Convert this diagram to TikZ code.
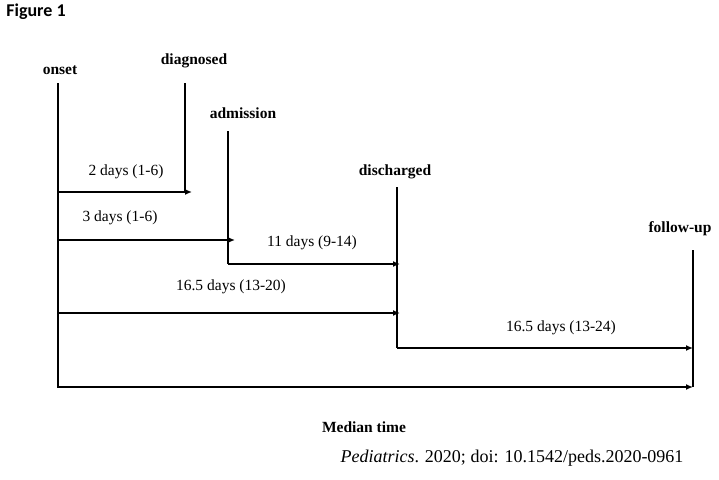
\documentclass[tikz,border=0pt]{standalone}
\usepackage{fontspec}
\setmainfont{Liberation Serif}
\newfontfamily\figfont{Carlito}
\usepackage{tikz}
\usetikzlibrary{arrows.meta,calc,positioning}

\tikzset{
  stage/.style={font=\fontsize{15.5}{18}\selectfont\bfseries, inner sep=0pt},
  span/.style={font=\fontsize{15.5}{18}\selectfont, inner sep=0pt},
  tl/.style={line width=1.5pt},
  tlarr/.style={line width=1.5pt, -{Latex[length=7pt,width=6pt]}}
}

\begin{document}
\begin{tikzpicture}[x=1pt, y=-1pt]
\useasboundingbox (0,0) rectangle (719,479);
% --- titolo ---
\node[font=\figfont\fontsize{18}{20}\selectfont\bfseries, inner sep=0pt] (fig) at (36,12) {Figure 1};
% --- eventi ---
\node[stage] (onset) at (60,70) {onset};
\node[stage] (diag) at (194,61) {diagnosed};
\node[stage] (adm) at (243,113) {admission};
\node[stage] (dis) at (395,172) {discharged};
\node[stage] (fu) at (680,229) {follow-up};
% --- estremi delle linee ---
\coordinate (on-t) at (58,83);
\coordinate (dg-t) at (185,83);
\coordinate (dg-b) at (185,192);
\coordinate (ad-t) at (228,131);
\coordinate (ad-b) at (228,264);
\coordinate (ds-t) at (397,187);
\coordinate (ds-b) at (397,348);
\coordinate (fu-t) at (693,250);
\coordinate (fu-b) at (693,387);
% --- linee verticali ---
\draw[tl] (dg-t) -- (dg-b);
\draw[tl] (ad-t) -- (ad-b);
\draw[tl] (ds-t) -- (ds-b);
\draw[tl] (fu-t) -- (fu-b);
% --- frecce ---
\draw[tlarr] (on-t) |- (fu-b);
\draw[tlarr] (on-t |- dg-b) -- ($(dg-b)+(7,0)$);
\draw[tlarr] (on-t |- 0,240) -- ($(ad-t |- 0,240)+(7,0)$);
\draw[tlarr] (ad-b) -- ($(ds-t |- ad-b)+(3,0)$);
\draw[tlarr] (on-t |- 0,313) -- ($(ds-t |- 0,313)+(3,0)$);
\draw[tlarr] (ds-b) -- (fu-b |- ds-b);
% --- durate ---
\node[span] (d1) at (126,172) {2 days (1-6)};
\node[span] (d2) at (120,218) {3 days (1-6)};
\node[span] (d3) at (312,243) {11 days (9-14)};
\node[span] (d4) at (231,287) {16.5 days (13-20)};
\node[span] (d5) at (561,328) {16.5 days (13-24)};
% --- didascalie ---
\node[stage] (med) at (364,427) {Median time};
\node[span, font=\fontsize{18}{20}\selectfont] (cite) at (512,458) {\textit{Pediatrics}. 2020; doi: 10.1542/peds.2020-0961};
\end{tikzpicture}
\end{document}
